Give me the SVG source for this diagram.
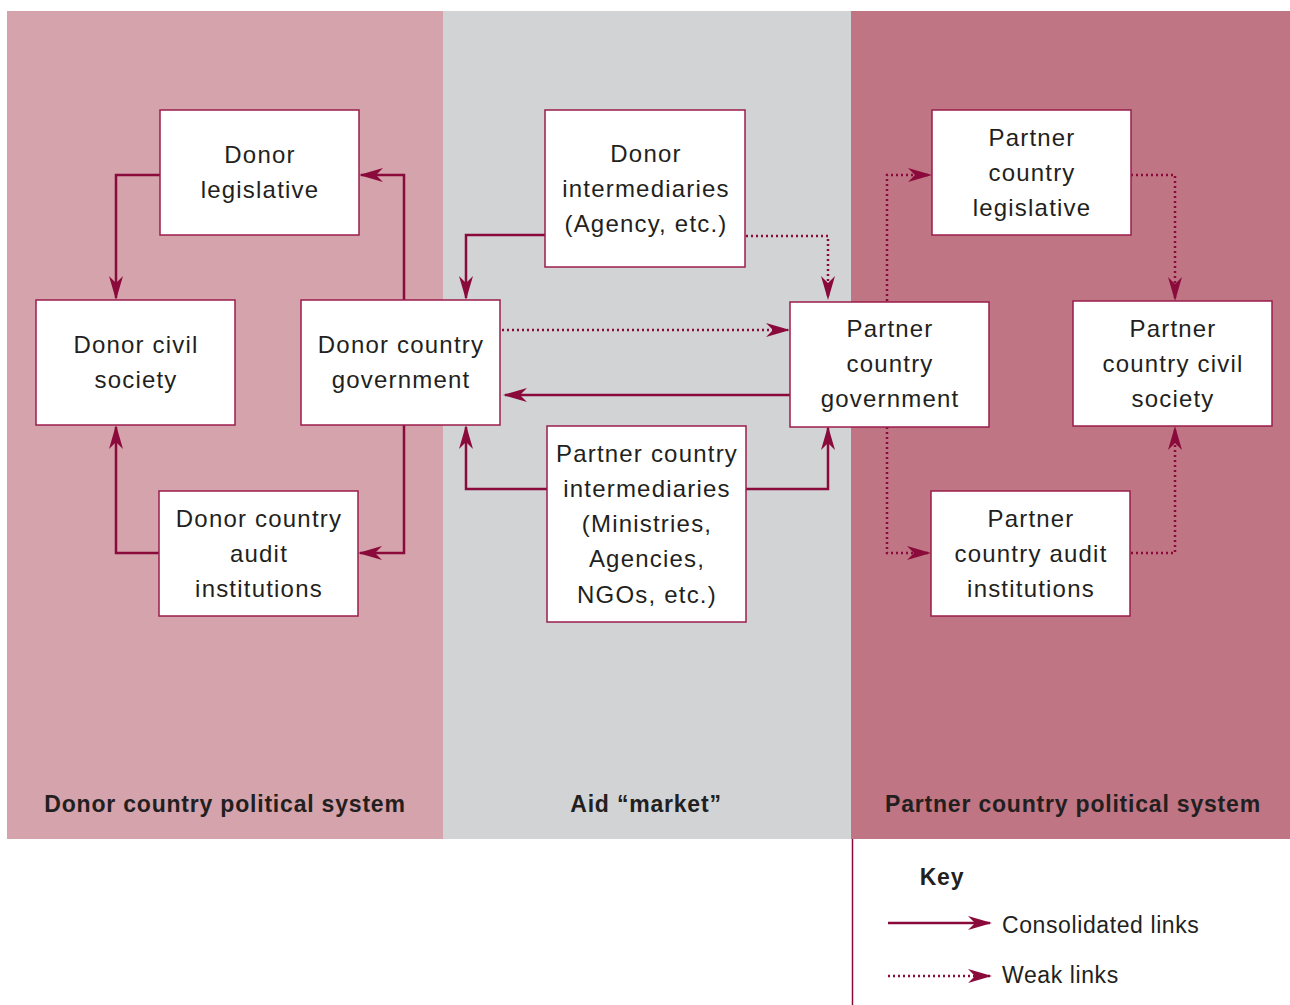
<svg xmlns="http://www.w3.org/2000/svg" width="1290" height="1005" viewBox="0 0 1290 1005">
<defs>
<style>
.box{fill:#fff;stroke:#9b1d4c;stroke-width:1.5}
.t{font-family:"Liberation Sans",Arial,sans-serif;font-size:24px;fill:#231f20;text-anchor:middle;letter-spacing:1.2px}
.h{font-family:"Liberation Sans",Arial,sans-serif;font-size:23px;font-weight:bold;fill:#231f20;text-anchor:middle;letter-spacing:0.8px}
.k{font-family:"Liberation Sans",Arial,sans-serif;font-size:23px;fill:#231f20;letter-spacing:0.6px}
.s{fill:none;stroke:#8b0a3c;stroke-width:2.5;marker-end:url(#ah)}
.d{fill:none;stroke:#8b0a3c;stroke-width:2.5;stroke-dasharray:2 3;marker-end:url(#ah)}
</style>
<marker id="ah" markerUnits="userSpaceOnUse" markerWidth="24" markerHeight="14" refX="22" refY="7" orient="auto">
<path d="M0,0 L24,7 L0,14 L7,7 z" fill="#8b0a3c"/>
</marker>
</defs>
<rect x="7" y="11" width="436" height="828" fill="#d5a3ab"/>
<rect x="443" y="11" width="408" height="828" fill="#d1d3d4"/>
<rect x="851" y="11" width="439" height="828" fill="#bf7583"/>
<line x1="852.5" y1="839" x2="852.5" y2="1005" stroke="#8b0a3c" stroke-width="1.5"/>
<g id="connectors">
<path class="s" d="M160,175 H116 V298"/>
<path class="s" d="M404,300 V175 H361"/>
<path class="s" d="M404,425 V553 H360"/>
<path class="s" d="M159,553 H116 V427"/>
<path class="s" d="M545,235 H466 V298"/>
<path class="d" d="M746,236 H828 V298"/>
<path class="d" d="M502,330 H788"/>
<path class="s" d="M790,395 H505"/>
<path class="s" d="M547,489 H466 V427"/>
<path class="s" d="M746,489 H828 V428"/>
<path class="d" d="M887,301 V175 H930"/>
<path class="d" d="M1131,175 H1175 V299"/>
<path class="d" d="M887,427 V553 H929"/>
<path class="d" d="M1131,553 H1175 V428"/>
</g>
<g id="donor-legislative"><rect class="box" x="160" y="110" width="199" height="125"/><text class="t" x="260" y="163">Donor</text><text class="t" x="260" y="198">legislative</text></g>
<g id="donor-civil-society"><rect class="box" x="36" y="300" width="199" height="125"/><text class="t" x="136" y="353">Donor civil</text><text class="t" x="136" y="388">society</text></g>
<g id="donor-government"><rect class="box" x="301" y="300" width="199" height="125"/><text class="t" x="401" y="353">Donor country</text><text class="t" x="401" y="388">government</text></g>
<g id="donor-audit"><rect class="box" x="159" y="491" width="199" height="125"/><text class="t" x="259" y="527">Donor country</text><text class="t" x="259" y="562">audit</text><text class="t" x="259" y="597">institutions</text></g>
<g id="donor-intermediaries"><rect class="box" x="545" y="110" width="200" height="157"/><text class="t" x="646" y="162">Donor</text><text class="t" x="646" y="197">intermediaries</text><text class="t" x="646" y="232">(Agency, etc.)</text></g>
<g id="partner-intermediaries"><rect class="box" x="547" y="426" width="199" height="196"/><text class="t" x="647" y="462">Partner country</text><text class="t" x="647" y="497">intermediaries</text><text class="t" x="647" y="532">(Ministries,</text><text class="t" x="647" y="567">Agencies,</text><text class="t" x="647" y="603">NGOs, etc.)</text></g>
<g id="partner-government"><rect class="box" x="790" y="302" width="199" height="125"/><text class="t" x="890" y="337">Partner</text><text class="t" x="890" y="372">country</text><text class="t" x="890" y="407">government</text></g>
<g id="partner-legislative"><rect class="box" x="932" y="110" width="199" height="125"/><text class="t" x="1032" y="146">Partner</text><text class="t" x="1032" y="181">country</text><text class="t" x="1032" y="216">legislative</text></g>
<g id="partner-civil-society"><rect class="box" x="1073" y="301" width="199" height="125"/><text class="t" x="1173" y="337">Partner</text><text class="t" x="1173" y="372">country civil</text><text class="t" x="1173" y="407">society</text></g>
<g id="partner-audit"><rect class="box" x="931" y="491" width="199" height="125"/><text class="t" x="1031" y="527">Partner</text><text class="t" x="1031" y="562">country audit</text><text class="t" x="1031" y="597">institutions</text></g>
<text class="h" x="225" y="812">Donor country political system</text>
<text class="h" x="646" y="812">Aid “market”</text>
<text class="h" x="1073" y="812">Partner country political system</text>
<g id="key">
<text class="h" x="942" y="885">Key</text>
<path class="s" d="M888,923 H990"/>
<text class="k" x="1002" y="933">Consolidated links</text>
<path class="d" d="M888,976 H990"/>
<text class="k" x="1002" y="983">Weak links</text>
</g>
</svg>
